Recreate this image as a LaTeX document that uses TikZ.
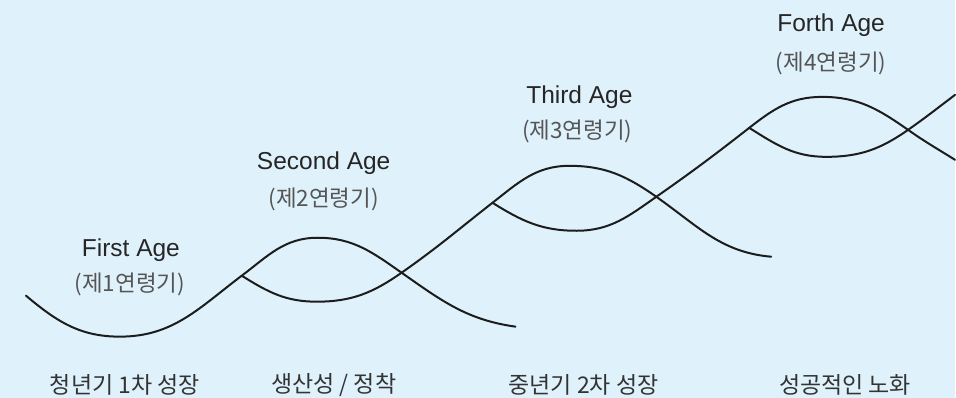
\documentclass[tikz,border=0pt]{standalone}
\usepackage{fontspec}
\setmainfont{Liberation Sans}
\newfontfamily\krfont{Noto Sans CJK KR}
\usetikzlibrary{positioning}
\definecolor{bgblue}{RGB}{223,241,251}
\definecolor{subgray}{RGB}{85,85,85}
\definecolor{curveink}{RGB}{28,28,28}

\begin{document}
\begin{tikzpicture}[x=1pt,y=1pt,
  wave/.style={curveink,line width=2pt,line cap=round},
  agename/.style={inner sep=0pt,text=black!85,font=\fontsize{24.5}{28}\selectfont},
  agesub/.style={inner sep=0pt,text=subgray,font=\krfont\fontsize{22.5}{26}\selectfont},
  stagename/.style={inner sep=0pt,text=black!80,font=\krfont\fontsize{23}{26}\selectfont}]
\fill[bgblue] (0,0) rectangle (956,398);
% branch and crossing points
\coordinate (b1) at (242,122); \coordinate (x1) at (402,125);
\coordinate (b2) at (493,195); \coordinate (x2) at (657,201);
\coordinate (b3) at (750,270); \coordinate (x3) at (909,268);
% first wave
\draw[wave] (26,102) to[out=-40,in=180] (120,61) to[out=0,in=217] (b1)
  to[out=37,in=180] (318,160) to[out=0,in=145] (x1) to[out=-35,in=172] (516,71);
% second wave
\draw[wave] (b1) to[out=-32,in=180] (317,96) to[out=0,in=215] (x1)
  to[out=35,in=218] (b2) to[out=38,in=180] (570,232) to[out=0,in=145] (x2)
  to[out=-35,in=175] (772,141);
% third wave
\draw[wave] (b2) to[out=-32,in=180] (577,167) to[out=0,in=215] (x2)
  to[out=35,in=218] (b3) to[out=38,in=180] (823,301) to[out=0,in=145] (x3)
  to[out=-35,in=148] (956,238);
% fourth wave
\draw[wave] (b3) to[out=-32,in=180] (827,241) to[out=0,in=215] (x3)
  to[out=35,in=217] (956,303);
% ages
\node[agename] (age1) at (131,148) {First Age};
\node[agesub] (sub1) at (130,113) {(제1연령기)};
\node[agename] (age2) at (324,235) {Second Age};
\node[agesub] (sub2) at (324,198) {(제2연령기)};
\node[agename] (age3) at (580,301) {Third Age};
\node[agesub] (sub3) at (578,266) {(제3연령기)};
\node[agename] (age4) at (832,373) {Forth Age};
\node[agesub] (sub4) at (832,335) {(제4연령기)};
% stages
\node[stagename] (stage1) at (125,13) {청년기 1차 성장};
\node[stagename] (stage2) at (334,13) {생산성 / 정착};
\node[stagename] (stage3) at (584,13) {중년기 2차 성장};
\node[stagename] (stage4) at (846,13) {성공적인 노화};
\end{tikzpicture}
\end{document}
